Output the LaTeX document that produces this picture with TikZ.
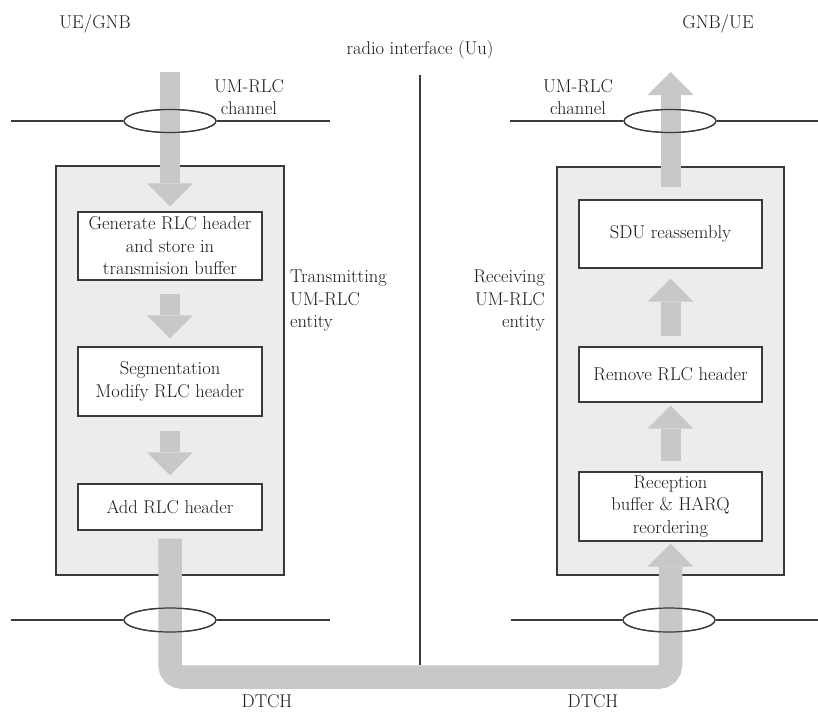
\documentclass[tikz,border=0pt]{standalone}
\usetikzlibrary{arrows.meta,shapes.geometric}

\definecolor{linegray}{HTML}{3A3A3A}
\definecolor{flowgray}{HTML}{C8C8C8}
\definecolor{entityfill}{HTML}{ECECEC}
\definecolor{inkgray}{HTML}{1A1A1A}

\begin{document}
\begin{tikzpicture}[x=1pt,y=-1pt,
  txt/.style={font=\rmfamily\fontsize{18.5}{22.5}\selectfont, text=inkgray,
    inner sep=0pt, align=center},
  stepbox/.style={draw=linegray, line width=1.3pt, fill=white, inner sep=0pt,
    align=center, text=inkgray, font=\rmfamily\fontsize{18.5}{22.5}\selectfont},
  entity/.style={draw=linegray, line width=1.3pt, fill=entityfill, inner sep=0pt},
  chan/.style={draw=linegray, line width=1.2pt},
  ring/.style={draw=linegray, line width=1.2pt, ellipse, inner sep=0pt,
    minimum width=92pt, minimum height=23pt},
  flow/.style={draw=flowgray, line width=20pt,
    -{Triangle[length=23pt,width=46pt,line width=0pt]}},
]
\useasboundingbox (0,0) rectangle (818,713);

% headings
\node[txt] (ue)    at (95,24)  {UE/GNB};
\node[txt] (gnb)   at (718,24) {GNB/UE};
\node[txt] (radio) at (420,50) {radio interface (Uu)};

% the two UM-RLC entities
\node[entity, minimum width=228pt, minimum height=409pt] (tx) at (170,370.5) {};
\node[entity, minimum width=227pt, minimum height=408pt] (rx) at (670.5,371) {};

% radio interface boundary
\coordinate (uutop) at (420,75);
\coordinate (uubot) at (420,665);
\draw[linegray, line width=1.2pt] (uutop) -- (uubot);

% logical channels
\node[ring] (chtl) at (170,121) {};
\node[ring] (chtr) at (670,121) {};
\node[ring, minimum height=24pt] (chbl) at (170,620) {};
\node[ring, minimum height=24pt] (chbr) at (669,620) {};
\coordinate (ltl) at (11,121);  \coordinate (ltr) at (330,121);
\coordinate (rtl) at (510,121); \coordinate (rtr) at (818,121);
\coordinate (lbl) at (11,620);  \coordinate (lbr) at (330,620);
\coordinate (rbl) at (511,620); \coordinate (rbr) at (818,620);
\draw[chan] (ltl) -- (chtl.west);  \draw[chan] (chtl.east) -- (ltr);
\draw[chan] (rtl) -- (chtr.west);  \draw[chan] (chtr.east) -- (rtr);
\draw[chan] (lbl) -- (chbl.west);  \draw[chan] (chbl.east) -- (lbr);
\draw[chan] (rbl) -- (chbr.west);  \draw[chan] (chbr.east) -- (rbr);

% transmitting side steps
\node[stepbox, minimum width=184pt, minimum height=68pt] (gen) at (170,246)
  {Generate RLC header\\and store in\\transmision buffer};
\node[stepbox, minimum width=184pt, minimum height=69pt] (seg) at (170,381.5)
  {Segmentation\\Modify RLC header};
\node[stepbox, minimum width=184pt, minimum height=46pt] (add) at (170,507)
  {Add RLC header};

% receiving side steps
\node[stepbox, minimum width=183pt, minimum height=68pt] (sdu) at (670.5,234)
  {SDU reassembly};
\node[stepbox, minimum width=183pt, minimum height=55pt] (rem) at (670.5,374.5)
  {Remove RLC header};
\node[stepbox, minimum width=183pt, minimum height=69pt] (rcv) at (670.5,506.5)
  {Reception\\buffer \& HARQ\\reordering};

% data flow
\coordinate (inl)  at (170,72);
\coordinate (outr) at (670.5,72);
\draw[flow, shorten >=5pt] (inl) -- (gen.north);
\draw[flow, shorten <=13pt, shorten >=8pt] (gen.south) -- (seg.north);
\draw[flow, shorten <=14pt, shorten >=8pt] (seg.south) -- (add.north);
\draw[flow, line width=23.5pt, rounded corners=12pt, shorten <=8pt, shorten >=2pt]
  (add.south) -- ++(0,146.5) -| (rcv.south);
\draw[flow, shorten <=10pt, shorten >=3pt] (rcv.north) -- (rem.south);
\draw[flow, shorten <=10pt, shorten >=10pt] (rem.north) -- (sdu.south);
\draw[flow, shorten <=12pt] (sdu.north) -- (outr);

% channel rings over the flow
\node[ring] at (chtl) {};
\node[ring] at (chtr) {};
\node[ring, minimum height=24pt] at (chbl) {};
\node[ring, minimum height=24pt] at (chbr) {};

% labels
\node[txt] (umtl) at (249,97) {UM-RLC\\channel};
\node[txt] (umtr) at (578,97) {UM-RLC\\channel};
\node[txt, align=left, anchor=west]  (txlab) at (290,301) {Transmitting\\UM-RLC\\entity};
\node[txt, align=right, anchor=east] (rxlab) at (545,301) {Receiving\\UM-RLC\\entity};
\node[txt] (dtchl) at (267,701) {DTCH};
\node[txt] (dtchr) at (593,701) {DTCH};
\end{tikzpicture}
\end{document}
